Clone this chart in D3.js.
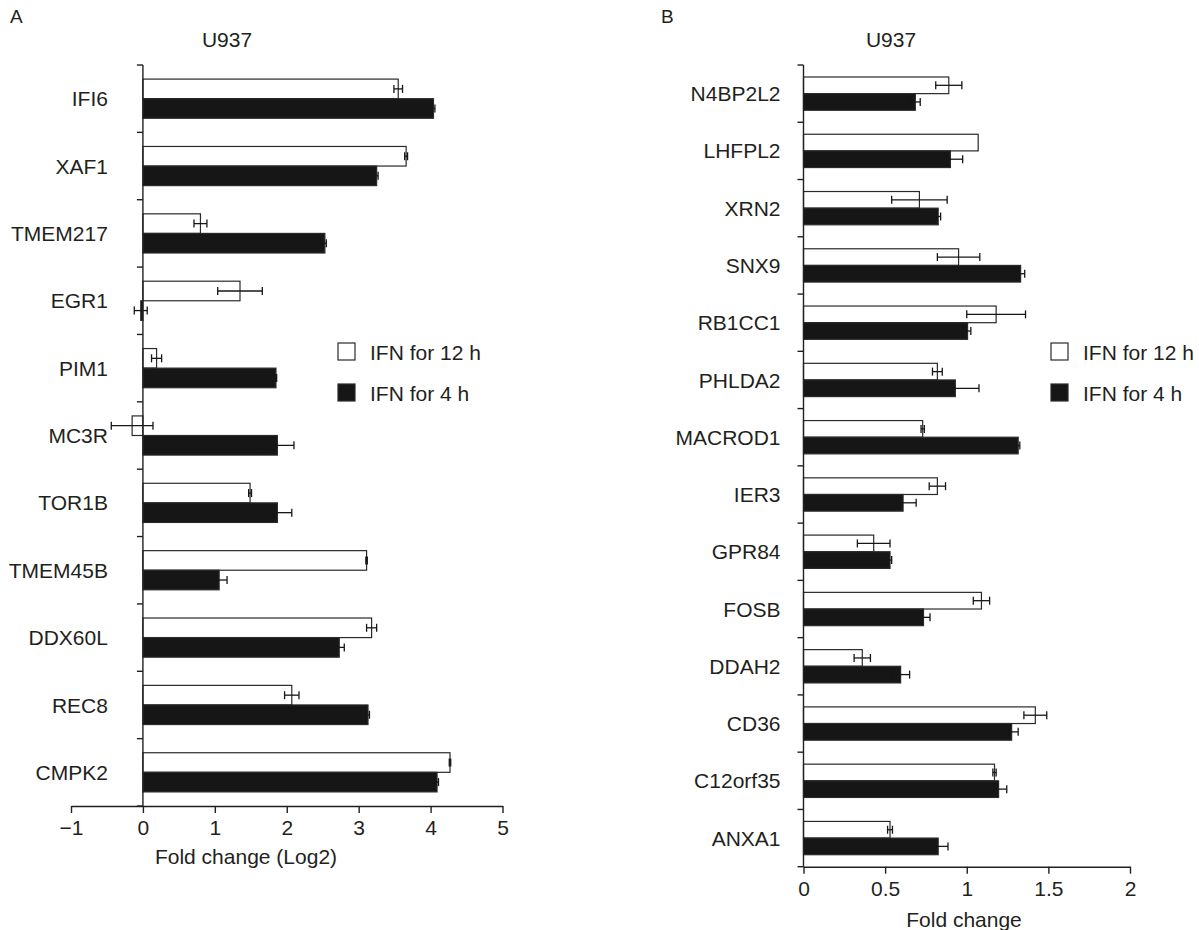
<!DOCTYPE html>
<html>
<head>
<meta charset="utf-8">
<script src="https://cdn.jsdelivr.net/npm/d3@7"></script>
<style>
  body { margin: 0; background: #fff; }
  svg { display: block; }
  text { font-family: "Liberation Sans", Arial, Helvetica, sans-serif; fill: #231f20; }
</style>
</head>
<body>
<svg id="chart" width="1199" height="930"></svg>
<script>
// Data
const seriesNames = ["IFN for 12 h", "IFN for 4 h"];

// Panel A (Fold change, Log2)
const genesA = ["IFI6", "XAF1", "TMEM217", "EGR1", "PIM1", "MC3R", "TOR1B", "TMEM45B", "DDX60L", "REC8", "CMPK2"];
const valuesA12h = [3.55, 3.66, 0.80, 1.35, 0.19, -0.15, 1.49, 3.11, 3.18, 2.07, 4.27];
const errorsA12h = [0.06, 0.02, 0.09, 0.31, 0.07, 0.29, 0.02, 0.01, 0.07, 0.10, 0.01];
const valuesA4h = [4.04, 3.25, 2.53, -0.03, 1.85, 1.87, 1.87, 1.06, 2.73, 3.13, 4.09];
const errorsA4h = [0.02, 0.02, 0.02, 0.09, 0.01, 0.23, 0.20, 0.11, 0.07, 0.02, 0.02];
const xTicksA = [-1, 0, 1, 2, 3, 4, 5];

// Panel B (Fold change)
const genesB = ["N4BP2L2", "LHFPL2", "XRN2", "SNX9", "RB1CC1", "PHLDA2", "MACROD1", "IER3", "GPR84", "FOSB", "DDAH2", "CD36", "C12orf35", "ANXA1"];
const valuesB12h = [0.89, 1.07, 0.71, 0.95, 1.18, 0.82, 0.73, 0.82, 0.43, 1.09, 0.36, 1.42, 1.17, 0.53];
const errorsB12h = [0.08, 0.00, 0.17, 0.13, 0.18, 0.03, 0.01, 0.05, 0.10, 0.05, 0.05, 0.07, 0.01, 0.015];
const valuesB4h = [0.685, 0.90, 0.825, 1.33, 1.005, 0.93, 1.315, 0.61, 0.53, 0.735, 0.595, 1.275, 1.195, 0.825];
const errorsB4h = [0.03, 0.075, 0.015, 0.025, 0.02, 0.145, 0.01, 0.08, 0.01, 0.04, 0.055, 0.04, 0.05, 0.06];
const xTicksB = [0, 0.5, 1, 1.5, 2];

const svg = d3.select("#chart");
const fontSize = 21;
const ink = "#231f20";
const barFill = ["#ffffff", "#161616"];

function drawPanel(p) {
  const g = svg.append("g");

  const x = d3.scaleLinear().domain(p.xDomain).range(p.xRange);
  const y = d3.scaleBand().domain(p.genes).range(p.yRange).paddingInner(0).paddingOuter(0);
  const sub = d3.scaleBand().domain([0, 1]).range([0, y.bandwidth()]).paddingInner(0).paddingOuter(0.72);

  const rows = p.genes.map((gene, i) => ({
    gene: gene,
    bars: [
      {s: 0, v: p.v12[i], e: p.e12[i]},
      {s: 1, v: p.v4[i], e: p.e4[i]}
    ]
  }));

  // bars
  const rowG = g.selectAll("g.row")
    .data(rows)
    .join("g")
    .attr("class", "row")
    .attr("transform", d => `translate(0, ${y(d.gene)})`);

  rowG.selectAll("rect")
    .data(d => d.bars)
    .join("rect")
    .attr("x", d => Math.min(x(0), x(d.v)))
    .attr("y", d => sub(d.s))
    .attr("width", d => Math.abs(x(d.v) - x(0)))
    .attr("height", sub.bandwidth())
    .attr("fill", d => barFill[d.s])
    .attr("stroke", "#2a2a2a")
    .attr("stroke-width", 1.2);

  // error bars (same ink as the dark bars so the inner half disappears)
  const capH = 8;
  const err = rowG.selectAll("g.err")
    .data(d => d.bars.filter(b => b.e > 0))
    .join("g")
    .attr("class", "err")
    .attr("stroke", "#161616")
    .attr("stroke-width", 1.3);
  err.append("line")
    .attr("x1", d => x(d.v - d.e))
    .attr("x2", d => x(d.v + d.e))
    .attr("y1", d => sub(d.s) + sub.bandwidth() / 2)
    .attr("y2", d => sub(d.s) + sub.bandwidth() / 2);
  err.append("line")
    .attr("x1", d => x(d.v - d.e))
    .attr("x2", d => x(d.v - d.e))
    .attr("y1", d => sub(d.s) + sub.bandwidth() / 2 - capH / 2)
    .attr("y2", d => sub(d.s) + sub.bandwidth() / 2 + capH / 2);
  err.append("line")
    .attr("x1", d => x(d.v + d.e))
    .attr("x2", d => x(d.v + d.e))
    .attr("y1", d => sub(d.s) + sub.bandwidth() / 2 - capH / 2)
    .attr("y2", d => sub(d.s) + sub.bandwidth() / 2 + capH / 2);

  // y axis line + ticks at band edges
  const x0 = x(0);
  g.append("line")
    .attr("x1", x0).attr("x2", x0)
    .attr("y1", p.yRange[0]).attr("y2", p.yRange[1])
    .attr("stroke", ink).attr("stroke-width", 1.4);
  const edges = p.genes.map(d => y(d)).concat([p.yRange[1]]);
  g.selectAll("line.ytick")
    .data(edges)
    .join("line")
    .attr("class", "ytick")
    .attr("x1", x0 - 6).attr("x2", x0)
    .attr("y1", d => d).attr("y2", d => d)
    .attr("stroke", ink).attr("stroke-width", 1.4);

  // gene labels
  g.selectAll("text.gene")
    .data(p.genes)
    .join("text")
    .attr("class", "gene")
    .attr("x", x0 - p.labelGap)
    .attr("y", d => y(d) + y.bandwidth() / 2)
    .attr("dy", "0.36em")
    .attr("text-anchor", "end")
    .attr("font-size", fontSize)
    .text(d => d);

  // x axis
  const xAxis = g.append("g")
    .attr("transform", `translate(0, ${p.yRange[1]})`)
    .call(d3.axisBottom(x).tickValues(p.xTicks).tickSize(7).tickSizeOuter(0).tickPadding(7).tickFormat(p.fmt));
  xAxis.select(".domain").attr("stroke", ink).attr("stroke-width", 1.4);
  xAxis.selectAll(".tick line").attr("stroke", ink).attr("stroke-width", 1.4);
  xAxis.selectAll(".tick text")
    .attr("font-size", fontSize)
    .attr("font-family", null)
    .attr("fill", ink);
  xAxis.attr("font-family", null);

  // axis title
  g.append("text")
    .attr("x", p.titleX)
    .attr("y", p.yRange[1] + p.titleDy)
    .attr("text-anchor", "middle")
    .attr("font-size", fontSize)
    .text(p.xTitle);

  // panel heading
  g.append("text")
    .attr("x", p.letterX).attr("y", 23)
    .attr("font-size", 19)
    .text(p.letter);
  g.append("text")
    .attr("x", p.headX).attr("y", 47)
    .attr("text-anchor", "middle")
    .attr("font-size", fontSize)
    .text("U937");

  // legend
  const leg = g.selectAll("g.legend")
    .data(seriesNames)
    .join("g")
    .attr("class", "legend")
    .attr("transform", (d, i) => `translate(${p.legendX}, ${343 + i * 41})`);
  leg.append("rect")
    .attr("width", 17).attr("height", 17)
    .attr("fill", (d, i) => barFill[i])
    .attr("stroke", "#2a2a2a").attr("stroke-width", 1.2);
  leg.append("text")
    .attr("x", 32).attr("y", 16.5)
    .attr("font-size", fontSize)
    .text(d => d);
}

drawPanel({
  letter: "A", letterX: 10, headX: 227,
  genes: genesA, v12: valuesA12h, e12: errorsA12h, v4: valuesA4h, e4: errorsA4h,
  xDomain: [-1, 5], xRange: [71, 502.5], xTicks: xTicksA, fmt: d3.format("d"),
  yRange: [65, 806], labelGap: 35,
  xTitle: "Fold change (Log2)", titleX: 246, titleDy: 58,
  legendX: 338
});

drawPanel({
  letter: "B", letterX: 661, headX: 891,
  genes: genesB, v12: valuesB12h, e12: errorsB12h, v4: valuesB4h, e4: errorsB4h,
  xDomain: [0, 2], xRange: [803.5, 1130], xTicks: xTicksB, fmt: d3.format("~g"),
  yRange: [65, 866.7], labelGap: 23,
  xTitle: "Fold change", titleX: 964, titleDy: 60,
  legendX: 1051
});
</script>
</body>
</html>
